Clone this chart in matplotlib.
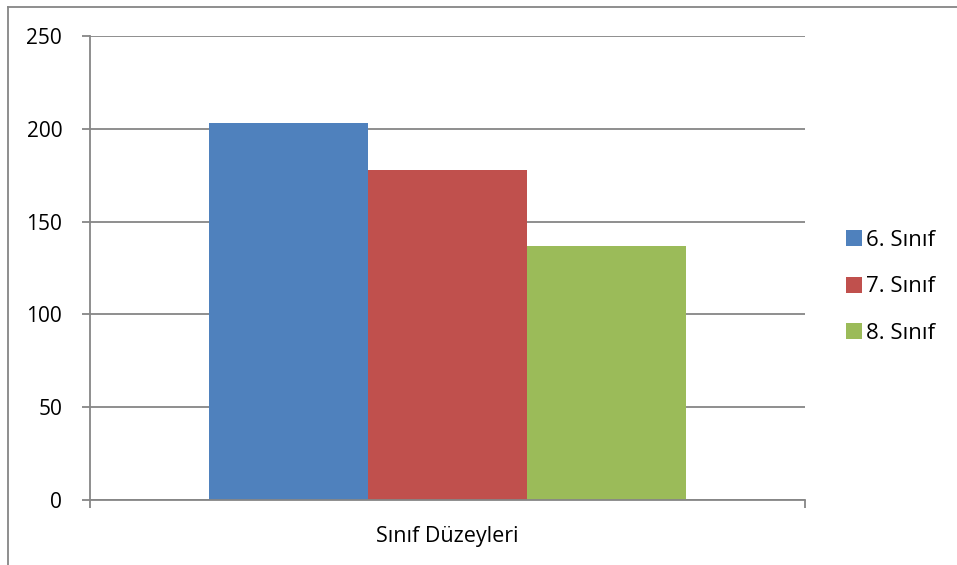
import matplotlib.pyplot as plt
from matplotlib.patches import Patch
from matplotlib.lines import Line2D

plt.rcParams['font.family'] = ['Open Sans', 'DejaVu Sans']
plt.rcParams['font.size'] = 15

series = ['6. Sınıf', '7. Sınıf', '8. Sınıf']
values = [203, 178, 137]
colors = ['#4F81BD', '#C0504D', '#9BBB59']
category = 'Sınıf Düzeyleri'
yticks = [0, 50, 100, 150, 200, 250]

grid_c = '#868686'
bar_w = 0.2224

fig = plt.figure(figsize=(9.57, 5.65), dpi=100)
ax = fig.add_axes([90 / 957, 65 / 565, 715 / 957, 464 / 565])

for i, (v, c) in enumerate(zip(values, colors)):
    ax.bar((i - 1) * bar_w, v, width=bar_w, color=c, zorder=3)

ax.set_xlim(-0.5, 0.5)
ax.set_ylim(0, 250)
ax.set_yticks(yticks)
ax.set_xticks([-0.5, 0.5])
ax.set_xticklabels(['', ''])
ax.set_xlabel(category, fontsize=15.5, labelpad=9)

ax.yaxis.grid(True, color=grid_c, linewidth=1.3, zorder=0)
ax.tick_params(axis='both', color=grid_c, width=1.3, length=6, direction='out')
ax.tick_params(axis='y', pad=14)
for s in ['top', 'right']:
    ax.spines[s].set_visible(False)
for s in ['left', 'bottom']:
    ax.spines[s].set_color(grid_c)
    ax.spines[s].set_linewidth(1.3)
    ax.spines[s].set_zorder(4)

handles = [Patch(facecolor=c, edgecolor='none') for c in colors]
fig.legend(handles, series, loc='center left',
           bbox_to_anchor=(846 / 957, 1 - 287 / 565),
           frameon=False, fontsize=16, borderpad=0, borderaxespad=0,
           handlelength=0.72, handleheight=0.72, handletextpad=0.2,
           labelspacing=1.15)

# outer chart border (left and top edges visible)
fig.add_artist(Line2D([8 / 957, 8 / 957], [0, 1 - 7 / 565], color=grid_c,
                      linewidth=1.3, transform=fig.transFigure))
fig.add_artist(Line2D([8 / 957, 1], [1 - 7 / 565, 1 - 7 / 565], color=grid_c,
                      linewidth=1.3, transform=fig.transFigure))

fig.savefig('out.png', dpi=100)
